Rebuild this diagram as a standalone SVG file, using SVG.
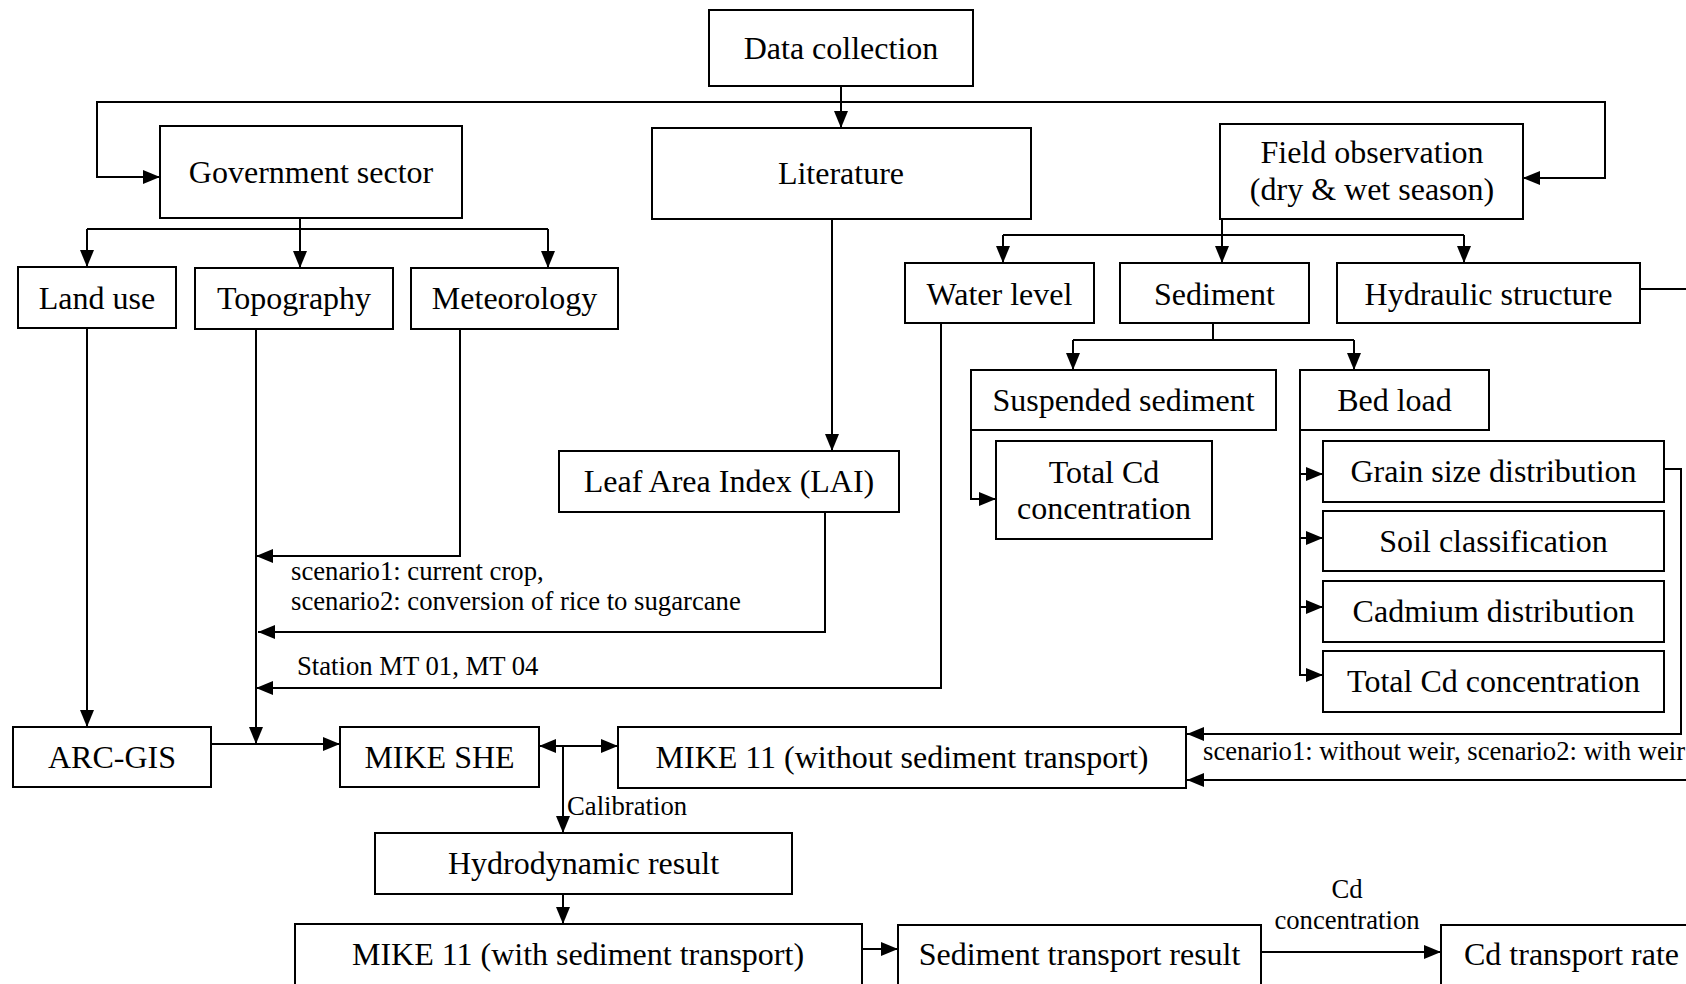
<svg xmlns="http://www.w3.org/2000/svg" width="1686" height="984" viewBox="0 0 1686 984">
<style>
.box{fill:#fff;stroke:#000;stroke-width:2}
.t{font-family:"Liberation Serif","Times New Roman",serif;font-size:32px;fill:#000;text-anchor:middle}
.l{font-family:"Liberation Serif","Times New Roman",serif;font-size:26.7px;fill:#000}
.c{fill:none;stroke:#000;stroke-width:2}
</style>
<defs>
<marker id="arr" markerWidth="17" markerHeight="14" refX="17" refY="7" orient="auto-start-reverse" markerUnits="userSpaceOnUse"><path d="M0,0 L17,7 L0,14 z" fill="#000"/></marker>
</defs>
<rect width="1686" height="984" fill="#fff"/>
<g id="connectors">
<path class="c" d="M841,86 V128" marker-end="url(#arr)"/>
<path class="c" d="M841,102 H97 V177 H160" marker-end="url(#arr)"/>
<path class="c" d="M841,102 H1605 V178 H1523" marker-end="url(#arr)"/>
<path class="c" d="M300,218 V268" marker-end="url(#arr)"/>
<path class="c" d="M87,229 H548"/>
<path class="c" d="M87,229 V267" marker-end="url(#arr)"/>
<path class="c" d="M548,229 V268" marker-end="url(#arr)"/>
<path class="c" d="M1222,219 V263" marker-end="url(#arr)"/>
<path class="c" d="M1003,235 H1464"/>
<path class="c" d="M1003,235 V263" marker-end="url(#arr)"/>
<path class="c" d="M1464,235 V263" marker-end="url(#arr)"/>
<path class="c" d="M1213,323 V340"/>
<path class="c" d="M1073,340 H1354"/>
<path class="c" d="M1073,340 V370" marker-end="url(#arr)"/>
<path class="c" d="M1354,340 V370" marker-end="url(#arr)"/>
<path class="c" d="M971,430 V499 H996" marker-end="url(#arr)"/>
<path class="c" d="M1300,430 V675 H1323" marker-end="url(#arr)"/>
<path class="c" d="M1300,474 H1323" marker-end="url(#arr)"/>
<path class="c" d="M1300,538 H1323" marker-end="url(#arr)"/>
<path class="c" d="M1300,607 H1323" marker-end="url(#arr)"/>
<path class="c" d="M1664,469 H1681 V734 H1187" marker-end="url(#arr)"/>
<path class="c" d="M1640,289 H1700 V780 H1187" marker-end="url(#arr)"/>
<path class="c" d="M87,328 V727" marker-end="url(#arr)"/>
<path class="c" d="M256,329 V744" marker-end="url(#arr)"/>
<path class="c" d="M460,329 V556 H256" marker-end="url(#arr)"/>
<path class="c" d="M825,512 V632 H258" marker-end="url(#arr)"/>
<path class="c" d="M832,219 V451" marker-end="url(#arr)"/>
<path class="c" d="M941,323 V688 H256" marker-end="url(#arr)"/>
<path class="c" d="M211,744 H340" marker-end="url(#arr)"/>
<path class="c" d="M539,746 H618" marker-start="url(#arr)" marker-end="url(#arr)"/>
<path class="c" d="M563,746 V833" marker-end="url(#arr)"/>
<path class="c" d="M563,894 V924" marker-end="url(#arr)"/>
<path class="c" d="M862,949 H898" marker-end="url(#arr)"/>
<path class="c" d="M1262,952 H1441" marker-end="url(#arr)"/>
<text class="l" x="291" y="580">scenario1: current crop,</text>
<text class="l" x="291" y="610">scenario2: conversion of rice to sugarcane</text>
<text class="l" x="297" y="675">Station MT 01, MT 04</text>
<text class="l" x="1203" y="760">scenario1: without weir, scenario2: with weir</text>
<text class="l" x="567" y="815">Calibration</text>
<text class="l" x="1347" y="898" text-anchor="middle">Cd</text>
<text class="l" x="1347" y="929" text-anchor="middle">concentration</text>
</g>
<g id="data-collection"><rect class="box" x="709" y="10" width="264" height="76"/><text class="t" x="841" y="59">Data collection</text></g>
<g id="government-sector"><rect class="box" x="160" y="126" width="302" height="92"/><text class="t" x="311" y="183">Government sector</text></g>
<g id="literature"><rect class="box" x="652" y="128" width="379" height="91"/><text class="t" x="841" y="184">Literature</text></g>
<g id="field-observation"><rect class="box" x="1220" y="124" width="303" height="95"/><text class="t" x="1372" y="163">Field observation</text><text class="t" x="1372" y="200">(dry &amp; wet season)</text></g>
<g id="land-use"><rect class="box" x="18" y="267" width="158" height="61"/><text class="t" x="97" y="309">Land use</text></g>
<g id="topography"><rect class="box" x="195" y="268" width="198" height="61"/><text class="t" x="294" y="309">Topography</text></g>
<g id="meteorology"><rect class="box" x="411" y="268" width="207" height="61"/><text class="t" x="514.5" y="309">Meteorology</text></g>
<g id="water-level"><rect class="box" x="905" y="263" width="189" height="60"/><text class="t" x="999.5" y="305">Water level</text></g>
<g id="sediment"><rect class="box" x="1120" y="263" width="189" height="60"/><text class="t" x="1214.5" y="305">Sediment</text></g>
<g id="hydraulic-structure"><rect class="box" x="1337" y="263" width="303" height="60"/><text class="t" x="1488.5" y="305">Hydraulic structure</text></g>
<g id="suspended-sediment"><rect class="box" x="971" y="370" width="305" height="60"/><text class="t" x="1123.5" y="411">Suspended sediment</text></g>
<g id="bed-load"><rect class="box" x="1300" y="370" width="189" height="60"/><text class="t" x="1394.5" y="411">Bed load</text></g>
<g id="total-cd-suspended"><rect class="box" x="996" y="441" width="216" height="98"/><text class="t" x="1104" y="483">Total Cd</text><text class="t" x="1104" y="519">concentration</text></g>
<g id="lai"><rect class="box" x="559" y="451" width="340" height="61"/><text class="t" x="729" y="492">Leaf Area Index (LAI)</text></g>
<g id="grain-size"><rect class="box" x="1323" y="441" width="341" height="61"/><text class="t" x="1493.5" y="482">Grain size distribution</text></g>
<g id="soil-classification"><rect class="box" x="1323" y="511" width="341" height="60"/><text class="t" x="1493.5" y="552">Soil classification</text></g>
<g id="cadmium-distribution"><rect class="box" x="1323" y="581" width="341" height="61"/><text class="t" x="1493.5" y="622">Cadmium distribution</text></g>
<g id="total-cd-bed"><rect class="box" x="1323" y="651" width="341" height="61"/><text class="t" x="1493.5" y="692">Total Cd concentration</text></g>
<g id="arc-gis"><rect class="box" x="13" y="727" width="198" height="60"/><text class="t" x="112" y="768">ARC-GIS</text></g>
<g id="mike-she"><rect class="box" x="340" y="727" width="199" height="60"/><text class="t" x="439.5" y="768">MIKE SHE</text></g>
<g id="mike11-without"><rect class="box" x="618" y="727" width="568" height="61"/><text class="t" x="902" y="768">MIKE 11 (without sediment transport)</text></g>
<g id="hydrodynamic-result"><rect class="box" x="375" y="833" width="417" height="61"/><text class="t" x="583.5" y="874">Hydrodynamic result</text></g>
<g id="mike11-with"><rect class="box" x="295" y="924" width="567" height="80"/><text class="t" x="578" y="965">MIKE 11 (with sediment transport)</text></g>
<g id="sediment-transport-result"><rect class="box" x="898" y="925" width="363" height="80"/><text class="t" x="1079.5" y="965">Sediment transport result</text></g>
<g id="cd-transport-rate"><rect class="box" x="1441" y="925" width="280" height="80"/><text class="t" x="1464" y="965" style="text-anchor:start">Cd transport rate</text></g>
</svg>
